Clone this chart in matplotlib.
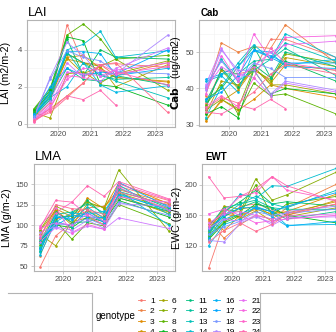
import numpy as np
import matplotlib
matplotlib.use("Agg")
import matplotlib.pyplot as plt
from matplotlib.lines import Line2D
from matplotlib.ticker import MultipleLocator

plt.rcParams["font.family"] = ["Liberation Sans", "DejaVu Sans"]

# ---------------------------------------------------------------------------
# Data (approximate)
# ---------------------------------------------------------------------------
TIMES = [2019.25, 2019.75, 2020.27, 2020.77, 2021.30, 2021.77, 2023.37]
GENOTYPES = [str(i) for i in range(1, 26)]
nan = np.nan

LAI = [
    [0.30, 1.10, 5.35, 3.30, 3.20, 3.25, 3.05],
    [0.25, 0.80, 1.50, 2.20, 3.20, 2.60, 3.30],
    [0.35, 1.30, 3.60, 3.70, 3.00, 2.50, 2.25],
    [0.40, 1.50, 3.50, 3.30, 2.90, 2.50, 2.30],
    [0.55, 1.70, 3.55, 2.70, 3.10, 2.00, 3.20],
    [0.60, 0.30, 2.70, 2.80, 2.20, 2.70, 3.40],
    [0.70, 1.60, 3.80, 3.30, 3.10, 3.50, 1.80],
    [0.80, 1.90, 4.80, 5.40, 4.60, 3.50, 3.70],
    [0.75, 1.80, 4.70, 4.50, 2.10, 2.00, 1.00],
    [0.65, 1.70, 4.60, 2.60, 4.00, 3.60, 3.50],
    [0.50, 1.40, 3.00, 2.40, 2.30, 2.60, 2.10],
    [0.45, 1.50, 3.80, 3.30, 2.60, 2.40, 2.50],
    [0.40, 1.30, 3.90, 2.70, 2.70, 2.30, 1.40],
    [0.50, 1.60, 4.00, 4.30, 5.00, 3.60, 3.95],
    [0.45, 1.40, 2.00, 3.30, 2.10, 1.70, 2.05],
    [0.35, 1.70, 3.90, 3.90, 3.80, 2.60, 3.00],
    [0.50, 2.00, 3.00, 2.60, 2.80, 2.70, 4.00],
    [0.40, 2.40, 3.95, 3.60, 3.40, 2.80, 2.70],
    [0.30, 2.50, 4.40, 3.70, 2.60, 2.70, 4.80],
    [0.25, 1.20, 3.30, 2.50, 2.30, 3.00, 4.10],
    [0.20, 1.00, 2.80, 2.70, 2.60, 2.90, 3.30],
    [0.15, 0.90, 2.40, 3.00, 2.90, 2.70, 3.10],
    [0.12, 0.80, 2.60, 2.50, 3.20, 2.80, 2.10],
    [0.10, 0.70, 1.50, 1.30, 1.80, 1.00, nan],
    [0.20, 0.60, 1.40, 2.20, 3.20, 3.30, 0.60],
]

CAB = [
    [36.0, 45.0, 44.0, 45.0, 53.5, 53.5, 48.5],
    [38.0, 52.5, 50.0, 51.5, 51.0, 57.5, 47.0],
    [31.0, 37.0, 34.0, 37.0, 41.0, 40.0, 37.5],
    [31.5, 36.5, 39.5, 45.5, 41.5, 46.5, 45.0],
    [33.0, 42.0, 41.0, 45.0, 42.5, 48.5, 46.0],
    [35.0, 45.0, 40.0, 46.0, 41.0, 41.0, 38.5],
    [34.0, 37.0, 34.5, 45.5, 42.0, 49.5, 47.0],
    [35.5, 41.0, 33.0, 41.5, 38.0, 38.5, 33.0],
    [33.0, 35.0, 32.0, 45.0, 38.5, 40.0, 38.5],
    [34.5, 45.5, 40.5, 46.5, 43.0, 47.5, 42.0],
    [37.0, 40.0, 46.0, 51.5, 43.0, 50.0, 46.0],
    [36.5, 44.0, 44.0, 47.5, 48.0, 51.0, 43.5],
    [40.0, 48.0, 42.0, 45.0, 48.0, 52.5, 47.5],
    [32.0, 40.5, 47.0, 52.0, 48.0, 55.0, 48.5],
    [42.0, 43.5, 39.0, 50.5, 48.5, 46.5, 48.0],
    [42.5, 44.0, 46.0, 50.5, 50.0, 46.0, 45.5],
    [37.0, 39.0, 43.5, 50.5, 49.0, 47.0, 47.0],
    [40.5, 47.5, 42.0, 47.0, 45.5, 43.0, 43.0],
    [39.5, 50.5, 45.0, 45.0, 38.5, 42.0, 39.5],
    [41.0, 51.0, 44.0, 43.0, 38.0, 41.5, 39.0],
    [40.0, 46.0, 43.0, 46.0, 50.0, 52.0, 53.0],
    [38.5, 49.0, 42.0, 55.0, 48.0, 54.0, 54.5],
    [35.0, 38.0, 35.0, 43.0, 51.0, 47.0, 45.0],
    [33.5, 33.0, 35.5, 34.3, 37.0, 34.5, nan],
    [34.5, 37.5, 36.0, 39.0, 44.0, 46.5, 44.0],
]

LMA = [
    [49, 87, 103, 118, 110, 147, 130],
    [63, 107, 113, 121, 123, 143, 127],
    [79, 118, 103, 133, 120, 151, 126],
    [85, 120, 110, 117, 107, 133, 116],
    [93, 118, 100, 126, 122, 139, 120],
    [89, 75, 104, 109, 101, 136, 114],
    [94, 123, 114, 128, 121, 167, 93],
    [76, 105, 83, 103, 99, 125, 102],
    [81, 100, 97, 110, 104, 130, 110],
    [69, 109, 111, 130, 112, 133, 117],
    [72, 116, 103, 104, 110, 145, 121],
    [78, 113, 116, 126, 115, 141, 124],
    [74, 105, 98, 118, 104, 138, 118],
    [67, 112, 106, 122, 108, 149, 113],
    [64, 104, 115, 113, 117, 142, 100],
    [83, 99, 112, 110, 109, 137, 119],
    [71, 110, 108, 115, 103, 152, 122],
    [86, 101, 101, 108, 100, 128, 112],
    [92, 98, 94, 106, 96, 126, 123],
    [80, 97, 90, 99, 95, 109, 96],
    [96, 103, 100, 114, 105, 134, 128],
    [99, 121, 91, 101, 95, 146, 118],
    [88, 115, 128, 112, 100, 150, 131],
    [97, 130, 128, 148, 135, 153, 132],
    [84, 125, 120, 119, 113, 140, 125],
]

EWT = [
    [90, 150, 172, 175, 168, 160, 175],
    [153, 130, 148, 160, 155, 170, 201],
    [155, 140, 160, 168, 162, 165, 188],
    [148, 162, 158, 170, 165, 163, 178],
    [138, 170, 155, 166, 152, 160, 180],
    [140, 172, 168, 172, 160, 158, 170],
    [133, 168, 165, 208, 180, 187, 217],
    [130, 152, 162, 200, 160, 175, 185],
    [128, 150, 160, 175, 170, 160, 150],
    [136, 165, 178, 193, 175, 178, 172],
    [132, 158, 170, 178, 165, 155, 165],
    [145, 170, 175, 180, 170, 168, 168],
    [139, 160, 175, 185, 175, 170, 193],
    [135, 162, 188, 182, 199, 198, 222],
    [120, 148, 155, 172, 164, 147, 148],
    [130, 155, 162, 170, 158, 146, 152],
    [142, 160, 170, 170, 165, 172, 190],
    [135, 145, 152, 165, 160, 163, 168],
    [127, 125, 150, 158, 150, 165, 172],
    [143, 155, 152, 160, 147, 157, 158],
    [150, 162, 165, 160, 155, 159, 162],
    [162, 168, 160, 150, 153, 155, 160],
    [146, 165, 185, 190, 211, 193, 180],
    [211, 183, 185, 195, 211, 199, 178],
    [125, 140, 150, 139, 148, 162, 175],
]


# ---------------------------------------------------------------------------
# ggplot-like hue palette
# ---------------------------------------------------------------------------
def hcl_hex(h, c=100.0, l=65.0):
    xn, yn, zn = 95.047, 100.0, 108.883
    hr = np.radians(h)
    u, v = c * np.cos(hr), c * np.sin(hr)
    y = yn * ((l + 16) / 116) ** 3
    den = xn + 15 * yn + 3 * zn
    un, vn = 4 * xn / den, 9 * yn / den
    up, vp = u / (13 * l) + un, v / (13 * l) + vn
    x = y * 9 * up / (4 * vp)
    z = y * (12 - 3 * up - 20 * vp) / (4 * vp)
    m = np.array([[3.2404542, -1.5371385, -0.4985314],
                  [-0.9692660, 1.8760108, 0.0415560],
                  [0.0556434, -0.2040259, 1.0572252]])
    rgb = np.clip(m @ np.array([x, y, z]) / 100.0, 0, 1)
    rgb = np.where(rgb <= 0.0031308, 12.92 * rgb, 1.055 * rgb ** (1 / 2.4) - 0.055)
    rgb = np.clip(rgb, 0, 1)
    return "#%02x%02x%02x" % tuple(int(round(k * 255)) for k in rgb)


HUES = np.linspace(15, 375, len(GENOTYPES) + 1)[:-1]
COLORS = [hcl_hex(h) for h in HUES]

W, H = 336, 332
BORDER = "#B3B3B3"
TXT = "#4D4D4D"

fig = plt.figure(figsize=(W / 100, H / 100), dpi=100)


def px_axes(l, t, r, b):
    return fig.add_axes([l / W, 1 - b / H, (r - l) / W, (b - t) / H])


def panel(box, values, ylim, ymaj, ymin, ylabel, ylab_x):
    l, t, r, b = box
    ax = px_axes(l, t, r, b)
    for g, c in zip(values, COLORS):
        ax.plot(TIMES, g, color=c, lw=0.6, zorder=3)
    for g, c in zip(values, COLORS):
        ax.plot(TIMES, g, ls="none", marker="o", ms=1.9, mec="none", color=c, zorder=4)
    ax.set_xlim(2019.04, 2023.58)
    ax.set_ylim(*ylim)
    ax.xaxis.set_major_locator(MultipleLocator(1))
    ax.xaxis.set_minor_locator(MultipleLocator(0.5))
    ax.yaxis.set_major_locator(MultipleLocator(ymaj))
    ax.yaxis.set_minor_locator(MultipleLocator(ymin))
    ax.grid(which="major", color="#E3E3E3", lw=0.5, zorder=0)
    ax.grid(which="minor", color="#F1F1F1", lw=0.4, zorder=0)
    ax.set_axisbelow(True)
    for s in ax.spines.values():
        s.set_color(BORDER)
        s.set_linewidth(0.8)
    ax.tick_params(which="major", length=2, width=0.5, color=BORDER,
                   labelsize=5.6, labelcolor=TXT, pad=1.5)
    ax.tick_params(which="minor", length=0)
    ax.set_ylabel(ylabel, fontsize=7.7)
    ax.yaxis.set_label_coords((ylab_x - l) / (r - l), 0.5)
    return ax


panel((27, 20, 174.6, 126.5), LAI, (-0.16, 5.62), 2, 1, "LAI (m2/m-2)", 11)
panel((199, 20, 342.8, 126), CAB, (29.7, 58.8), 10, 5,
      r"$\mathbf{Cab}$   (ug/cm2)", 183)
panel((33.5, 164, 175.2, 271), LMA, (44.3, 174.3), 25, 12.5, "LMA (g/m-2)", 12)
panel((202, 164, 343, 271), EWT, (86.7, 227.6), 40, 20, "EWC (g/m-2)", 182)

fig.text(28 / W, 1 - 16.5 / H, "LAI", fontsize=9.4, va="baseline")
fig.text(201 / W, 1 - 16.5 / H, "Cab", fontsize=7, fontweight="bold", va="baseline")
fig.text(35 / W, 1 - 160.5 / H, "LMA", fontsize=9.4, va="baseline")
fig.text(205 / W, 1 - 160.5 / H, "EWT", fontsize=7, fontweight="bold", va="baseline")

# empty panels of the lower row (cut off by the page)
left_box = px_axes(8, 293, 92, 400)
right_box = px_axes(260, 293, 400, 400)
for ax, keep in ((left_box, ("top", "right")), (right_box, ("top", "left"))):
    ax.set_xticks([])
    ax.set_yticks([])
    ax.patch.set_alpha(0)
    for k, s in ax.spines.items():
        s.set_visible(k in keep)
        s.set_color(BORDER)
        s.set_linewidth(0.8)

# legend
handles = [Line2D([], [], color=c, lw=0.6, marker="o", ms=1.9, mec="none") for c in COLORS]
fig.legend(handles, GENOTYPES, ncol=5, loc="upper left",
           bbox_to_anchor=(137.5 / W, 1 - 297 / H), frameon=False,
           fontsize=6, handlelength=0.9, handletextpad=0.6,
           columnspacing=0.55, labelspacing=0.3, borderpad=0, borderaxespad=0)
fig.text(96 / W, 1 - 316 / H, "genotype", fontsize=7, va="center")

fig.savefig("out.png", dpi=100)
